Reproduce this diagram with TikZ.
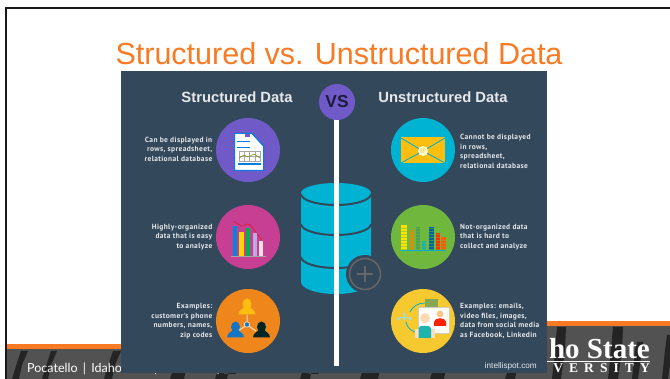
\documentclass[tikz,border=0pt]{standalone}
\usepackage{fontspec}
\setmainfont{Liberation Sans}
\newfontfamily\smallf[LetterSpace=5]{PT Sans Bold}
\newfontfamily\footf{Lato}
\newfontfamily\serf{Liberation Serif Bold}
\newfontfamily\serspaced[LetterSpace=45]{Liberation Serif Bold}
\newfontfamily\headf{Liberation Sans Bold}
\definecolor{panelc}{HTML}{34485C}
\definecolor{orangeT}{HTML}{F97A23}
\definecolor{bandc}{HTML}{525252}
\definecolor{purp}{HTML}{6F5AC8}
\definecolor{pinkc}{HTML}{C63F92}
\definecolor{orgc}{HTML}{EF861B}
\definecolor{tealc}{HTML}{00B3D2}
\definecolor{greenc}{HTML}{70B73D}
\definecolor{yelc}{HTML}{F5C92F}
\definecolor{envy}{HTML}{FDBE10}
\definecolor{txtc}{HTML}{E6E8EA}
\definecolor{vsc}{HTML}{1C1C3C}
\tikzset{
  small/.style={font=\smallf\fontsize{7.45}{9.5}\selectfont,text=txtc,inner sep=0pt,align=left,anchor=west},
  smallr/.style={font=\smallf\fontsize{7.45}{9.5}\selectfont,text=txtc,inner sep=0pt,align=right,anchor=east},
  head/.style={font=\headf\fontsize{14.8}{16}\selectfont,text=txtc,inner sep=0pt},
  bubble/.style={circle,minimum size=64pt,inner sep=0pt},
  streak/.style={fill=black,opacity=.55},
}
\begin{document}
\begin{tikzpicture}[x=1pt,y=-1pt]
\useasboundingbox (0,0) rectangle (670,379);
\fill[white] (0,0) rectangle (670,379);
% frame
\fill[black!90] (4.5,7) rectangle (670,9.5);
\fill[black!90] (4.5,7) rectangle (7,379);
% footer band
\fill[bandc] (7,349) rectangle (670,379);
\fill[bandc] (500,326) rectangle (670,379);
\fill[orangeT] (7,344) rectangle (130,349);
\fill[orangeT] (500,321) rectangle (670,326);
% tree streaks
\foreach \x/\yt/\w in {12/351/7,42/351/6,104/351/8,170/373/14,215/374/12,300/374/10,360/373/18,430/373/14,505/373/10}{
  \fill[streak] (\x+9,\yt) -- (\x+9+\w,\yt) -- (\x+\w+3,365) -- (\x+\w,379) -- (\x,379) -- (\x+5,363) -- cycle;
}
\foreach \x/\yt/\w in {552/327/9,608/327/10,632/342/6,662/335/6}{
  \fill[streak] (\x+5,\yt) -- (\x+5+\w,\yt) -- (\x+\w+4,350) -- (\x+\w,379) -- (\x,379) -- (\x+3,350) -- cycle;
}
% footer text
\node[font=\footf\fontsize{12.5}{14}\selectfont,text=white,inner sep=0pt,anchor=base west] (campus) at (27,373) {Pocatello\, | \,Idaho Falls\, | \,Meridian\, | \,Twin Falls};
\node[font=\serf\fontsize{29}{30}\selectfont,text=white,inner sep=0pt,text depth=0pt,anchor=base east] (idaho) at (650,359) {ho State};
\node[font=\serspaced\fontsize{13.5}{14}\selectfont,text=white,inner sep=0pt,text height=9pt,text depth=0pt,anchor=base east] (univ) at (650,373) {VERSITY};
\fill[white] (547,361.5) rectangle (650,362.5);
% title
\node[font=\fontsize{30.5}{32}\selectfont,text=orangeT,inner sep=0pt,anchor=base] (title) at (339,65) {Structured vs. Unstructured Data};
% panel
\fill[panelc] (121,71) rectangle (547,373);
% database
\fill[tealc] (301,193) arc[start angle=180,end angle=360,x radius=35,y radius=10] -- (371,282) arc[start angle=0,end angle=180,x radius=35,y radius=12] -- cycle;
\foreach \yy in {193,223,256}{
  \draw[panelc,line width=2pt] (301,\yy+1) arc[start angle=180,end angle=0,x radius=35,y radius=11];
}
% centre line
\fill[white] (334,115) rectangle (339,366);
\node[circle,fill=panelc,minimum size=38pt,inner sep=0pt] (plusout) at (365,274) {};
\node[circle,draw=black!60,line width=1.5pt,fill=panelc,minimum size=31pt,inner sep=0pt] (plus) at (365,274) {};
\draw[black!60,line width=1.4pt] (357,274) -- (373,274) (365,266) -- (365,282);
\node[circle,fill=purp,minimum size=36pt,inner sep=0pt,font=\headf\fontsize{17.3}{18}\selectfont,text=vsc] (vs) at (337,102) {VS};
% headers
\node[head] (hl) at (237,97) {Structured Data};
\node[head] (hr) at (443,97) {Unstructured Data};
% bubbles
\node[bubble,fill=purp] (c1) at (248,150) {};
\node[bubble,fill=pinkc] (c2) at (248,237) {};
\node[bubble,fill=orgc] (c3) at (248,321) {};
\node[bubble,fill=tealc] (d1) at (423,150) {};
\node[bubble,fill=greenc] (d2) at (423,237) {};
\node[bubble,fill=yelc] (d3) at (423,321) {};
% text
\node[smallr] (t1) at (212.5,149) {Can be displayed in\\rows, spreadsheet,\\relational database};
\node[smallr] (t2) at (212.5,237) {Highly-organized\\data that is easy\\to analyze};
\node[smallr] (t3) at (212.5,321) {Examples:\\customer's phone\\numbers, names,\\zip codes};
\node[small] (u1) at (460,151.5) {Cannot be displayed\\in rows,\\spreadsheet,\\relational database};
\node[small] (u2) at (460,237) {Not-organized data\\that is hard to\\collect and analyze};
\node[small] (u3) at (460,321) {Examples: emails,\\video files, images,\\data from social media\\as Facebook, Linkedin};
\node[font=\fontsize{8.2}{9}\selectfont,text=txtc,inner sep=0pt,anchor=base east] (src) at (537,369) {intellispot.com};
% doc icon
\fill[white,draw=tealc!70!blue,line width=1pt] (234.5,133.5) -- (252,133.5) -- (263.5,146) -- (263.5,170.5) -- (234.5,170.5) -- cycle;
\draw[tealc!70!blue,line width=.8pt] (252,133.5) -- (263.5,146);
\fill[purp] (245,134) rectangle (250,137);
\fill[tealc!70!blue] (237,141) rectangle (250,142.5);
\fill[tealc!70!blue] (237,147) rectangle (250,148.5);
\fill[tealc!70!blue] (238,163.5) rectangle (261,165);
\draw[black!35,line width=.4pt] (239,151) rectangle (260,161);
\foreach \xx in {244,249.5,255}{\draw[black!35,line width=.4pt] (\xx,151) -- (\xx,161);}
\draw[black!35,line width=.4pt] (239,156) -- (260,156);
\draw[olive!80!green,line width=.6pt] (239,158) -- (244,155) -- (248,157) -- (254,154) -- (260,158);
% envelope
\fill[envy] (401,137) rectangle (445,163);
\draw[tealc,line width=.9pt] (401,138) -- (423,151) -- (445,138) (401,163) -- (423,151) -- (445,163);
\node[circle,fill=white!85!yellow,minimum size=10pt,inner sep=0pt] (atc) at (423,151) {};
\node[font=\fontsize{6}{6}\selectfont,text=envy,inner sep=0pt] (at) at (423,151) {@};
% bar chart
\draw[red!70!pinkc,line width=.6pt] (234,221) .. controls (240,226) and (243,228) .. (246,224) .. controls (250,222) and (255,232) .. (262,240);
\foreach \xa/\xb/\yy/\cc in {233/237/226/tealc!75!blue,239/244/232/yellow!75!orange,246/250/228/teal!60!green,253/257/233/purp!50!white,259/263/241/pink!50!white}{
  \fill[\cc] (\xa,\yy) rectangle (\xb,256);
}
\draw[black!35,line width=.4pt] (231,256.5) -- (266,256.5);
% segmented chart
\foreach \xa/\xb/\yy/\cc in {401/407/225/yellow!85!orange,410/414/230/orange!75!greenc,416/420/227/greenc!65!teal,422/426/241/tealc!80!greenc,429/434/227/blue!20!teal,436/440/233/red!65!orange,441/446/237/red!30!orange}{
  \fill[\cc] (\xa,\yy) rectangle (\xb,250);
  \foreach \yl in {228,231,234,237,240,243,246,249}{
    \ifnum\yl>\yy \draw[greenc,line width=.3pt,opacity=.5] (\xa,\yl) -- (\xb,\yl);\fi
  }
}
\fill[tealc] (401,250) rectangle (446,251.5);
% network icon
\draw[white!70!orgc,line width=1pt] (247,315) -- (247,325) -- (238,331) (247,325) -- (256,331);
\foreach \px/\py/\cc in {247/299/envy,235.5/322/cyan!55!blue,261.5/322/black!70!teal}{
  \fill[\cc] (\px,\py+5) ellipse[x radius=4.5,y radius=5.5];
  \fill[\cc] (\px-8.5,\py+15.5) .. controls (\px-8.5,\py+11) and (\px-4,\py+10) .. (\px-3,\py+8) -- (\px+3,\py+8) .. controls (\px+4,\py+10) and (\px+8.5,\py+11) .. (\px+8.5,\py+15.5) -- cycle;
}
\fill[cyan!55!blue,draw=white!70!orgc,line width=.7pt] (247,324.5) circle[radius=2.7];
% social icon
\fill[white!90!yelc,draw=black!20,line width=.7pt] (418,307) rectangle (449,333);
\fill[white] (420,310) rectangle (446,330);
\fill[teal!45!yelc] (425,299) rectangle (438,307);
\draw[tealc,line width=.8pt] (425,303) .. controls (418,303) and (413,306) .. (410,312);
\draw[tealc,line width=.8pt] (406,322) .. controls (407,327) and (410,330) .. (415,332);
\fill[white!75!orange] (415,329) rectangle (419,338);
\fill[white!75!orange] (431,329) rectangle (435,338);
\fill[tealc!75!greenc] (418.5,338) -- (418.5,328) .. controls (418.5,325) and (431,325) .. (431,328) -- (431,338) -- cycle;
\fill[orange!30!white] (425,318) circle[radius=5];
\fill[orange!45!white] (440,314) circle[radius=3.5];
\fill[red!75!orange] (434,326) -- (434,322) .. controls (434,317) and (446,317) .. (446,322) -- (446,326) -- cycle;
\foreach \nx/\ny in {398/319,404/314,410/319,404/319}{
  \fill[white!60!tealc] (\nx,\ny) circle[radius=1.5];
}
\draw[white!60!tealc,line width=.6pt] (404,314) -- (404,319) (398,317) -- (410,317) (398,317) -- (398,319) (410,317) -- (410,319);
\end{tikzpicture}
\end{document}
